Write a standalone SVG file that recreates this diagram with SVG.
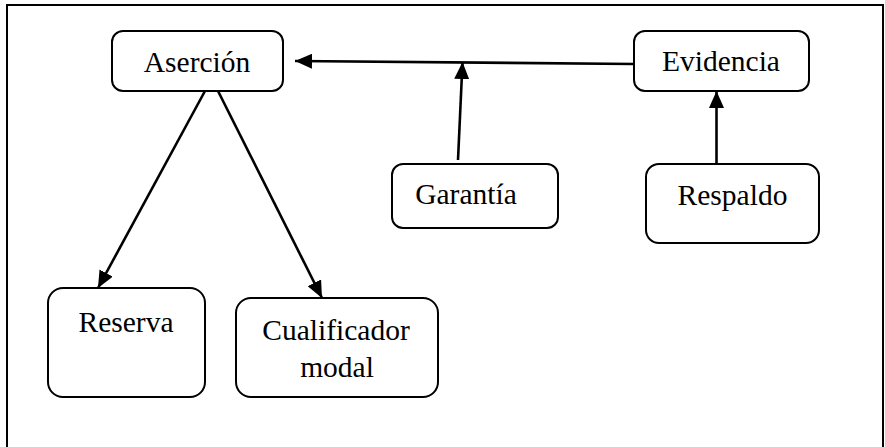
<svg xmlns="http://www.w3.org/2000/svg" width="885" height="447" viewBox="0 0 885 447">
<style>
.box{fill:#fff;stroke:#000;stroke-width:2}
.lbl{font-family:'Liberation Serif','Times New Roman',serif;font-size:29.5px;fill:#000;text-anchor:middle}
.edge{stroke:#000;stroke-width:2.6;fill:none}
</style>
<defs>
<marker id="arr" markerUnits="userSpaceOnUse" markerWidth="18" markerHeight="15" refX="17" refY="7.5" orient="auto">
<path d="M0,0 L17,7.5 L0,15 Z" fill="#000"/>
</marker>
</defs>
<rect width="885" height="447" fill="#fff"/>
<rect x="7" y="5" width="876" height="460" fill="none" stroke="#000" stroke-width="2"/>
<g id="connectors">
<line class="edge" x1="634" y1="64" x2="295" y2="61" marker-end="url(#arr)"/>
<line class="edge" x1="458" y1="160" x2="462.5" y2="62" marker-end="url(#arr)"/>
<line class="edge" x1="716.5" y1="164" x2="716.5" y2="91" marker-end="url(#arr)"/>
<line class="edge" x1="205" y1="91" x2="98" y2="288" marker-end="url(#arr)"/>
<line class="edge" x1="218" y1="91" x2="322" y2="298" marker-end="url(#arr)"/>
</g>
<g id="asercion">
<rect class="box" x="112" y="31" width="171" height="60" rx="11"/>
<text class="lbl" x="197" y="72">Aserción</text>
</g>
<g id="evidencia">
<rect class="box" x="634" y="31" width="175" height="60" rx="11"/>
<text class="lbl" x="721" y="71">Evidencia</text>
</g>
<g id="garantia">
<rect class="box" x="392" y="164" width="166" height="64" rx="11"/>
<text class="lbl" x="466" y="204">Garantía</text>
</g>
<g id="respaldo">
<rect class="box" x="646" y="164" width="173" height="79" rx="13"/>
<text class="lbl" x="732.5" y="205">Respaldo</text>
</g>
<g id="reserva">
<rect class="box" x="48" y="288" width="157" height="109" rx="15"/>
<text class="lbl" x="126" y="332">Reserva</text>
</g>
<g id="cualificador">
<rect class="box" x="236" y="298" width="202" height="99" rx="15"/>
<text class="lbl" x="336" y="340">Cualificador</text>
<text class="lbl" x="337" y="377">modal</text>
</g>
</svg>
